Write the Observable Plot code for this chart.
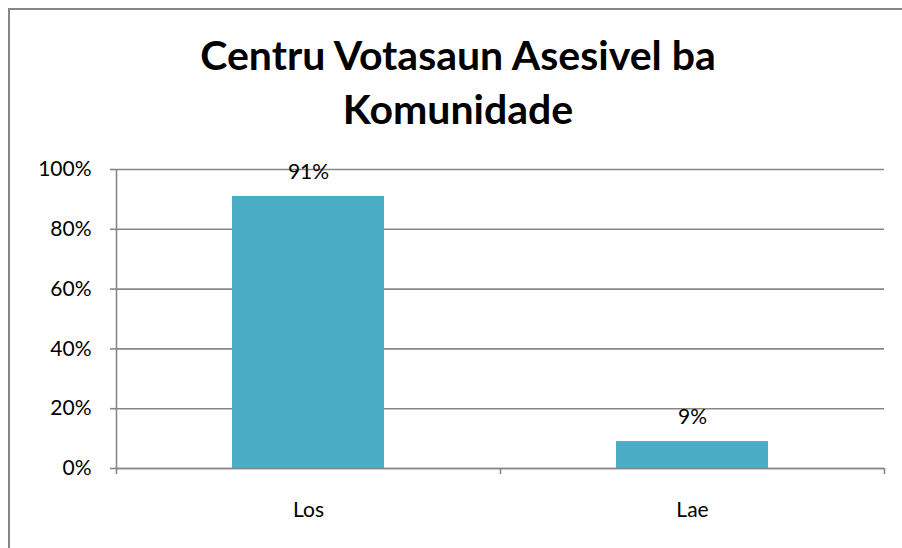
<!DOCTYPE html>
<html>
<head>
<meta charset="utf-8">
<script src="https://cdn.jsdelivr.net/npm/d3@7"></script>
<script src="https://cdn.jsdelivr.net/npm/@observablehq/plot@0.6"></script>
<style>
  html, body { margin: 0; padding: 0; background: #fff; }
  #wrap { position: relative; width: 902px; height: 548px; overflow: hidden; font-family: Lato, "Open Sans", sans-serif; }
  #frame { position: absolute; left: 8px; top: 8px; width: 900px; height: 545px; border-left: 2px solid #868686; border-top: 2px solid #868686; }
  #title { position: absolute; left: 0; top: 28px; width: 916px; text-align: center; font-weight: bold; font-size: 41px; line-height: 54px; color: #000; }
  #chart { position: absolute; left: 0; top: 140px; }
</style>
</head>
<body>
<div id="wrap">
  <div id="frame"></div>
  <div id="title">Centru Votasaun Asesivel ba<br>Komunidade</div>
  <div id="chart"></div>
</div>
<script>
const categories = ["Los", "Lae"];
const values = [0.91, 0.09];
const valueLabels = ["91%", "9%"];
const yTicks = [0, 0.2, 0.4, 0.6, 0.8, 1.0];

const data = categories.map((c, i) => ({cat: c, i, v: values[i], label: valueLabels[i]}));
const grid = "#878787";

const plot = Plot.plot({
  width: 902,
  height: 408,
  marginTop: 29,
  marginBottom: 80,
  marginLeft: 116,
  marginRight: 18,
  style: {fontFamily: "Lato, 'Open Sans', sans-serif", fontSize: "21px", color: "#000", background: "transparent"},
  x: {type: "linear", domain: [0, categories.length], axis: null},
  y: {domain: [0, 1], axis: null},
  marks: [
    Plot.ruleY(yTicks, {stroke: grid, strokeWidth: 1.6}),
    Plot.axisY({ticks: yTicks, tickFormat: d3.format(".0%"), tickSize: 6, tickPadding: 19, stroke: grid, strokeWidth: 1.6, strokeOpacity: 1, label: null, fill: "#000", fontSize: 21}),
    Plot.axisX({ticks: d3.range(categories.length + 1), tickFormat: () => "", tickSize: 6, stroke: grid, strokeWidth: 1.6, strokeOpacity: 1, label: null}),
    Plot.ruleX([0], {y1: 0, y2: 1, stroke: grid, strokeWidth: 1.6}),
    Plot.rectY(data, {x1: "i", x2: d => d.i + 1, y1: 0, y2: "v", fill: "#4BACC6", insetLeft: 116, insetRight: 116}),
    Plot.ruleY([0], {stroke: grid, strokeWidth: 1.6}),
    Plot.text(data, {x: d => d.i + 0.5, y: "v", text: "label", dy: -24, fill: "#000", fontSize: 21}),
    Plot.text(data, {x: d => d.i + 0.5, y: 0, text: "cat", dy: 42, fill: "#000", fontSize: 21})
  ]
});
document.getElementById("chart").appendChild(plot);
</script>
</body>
</html>
